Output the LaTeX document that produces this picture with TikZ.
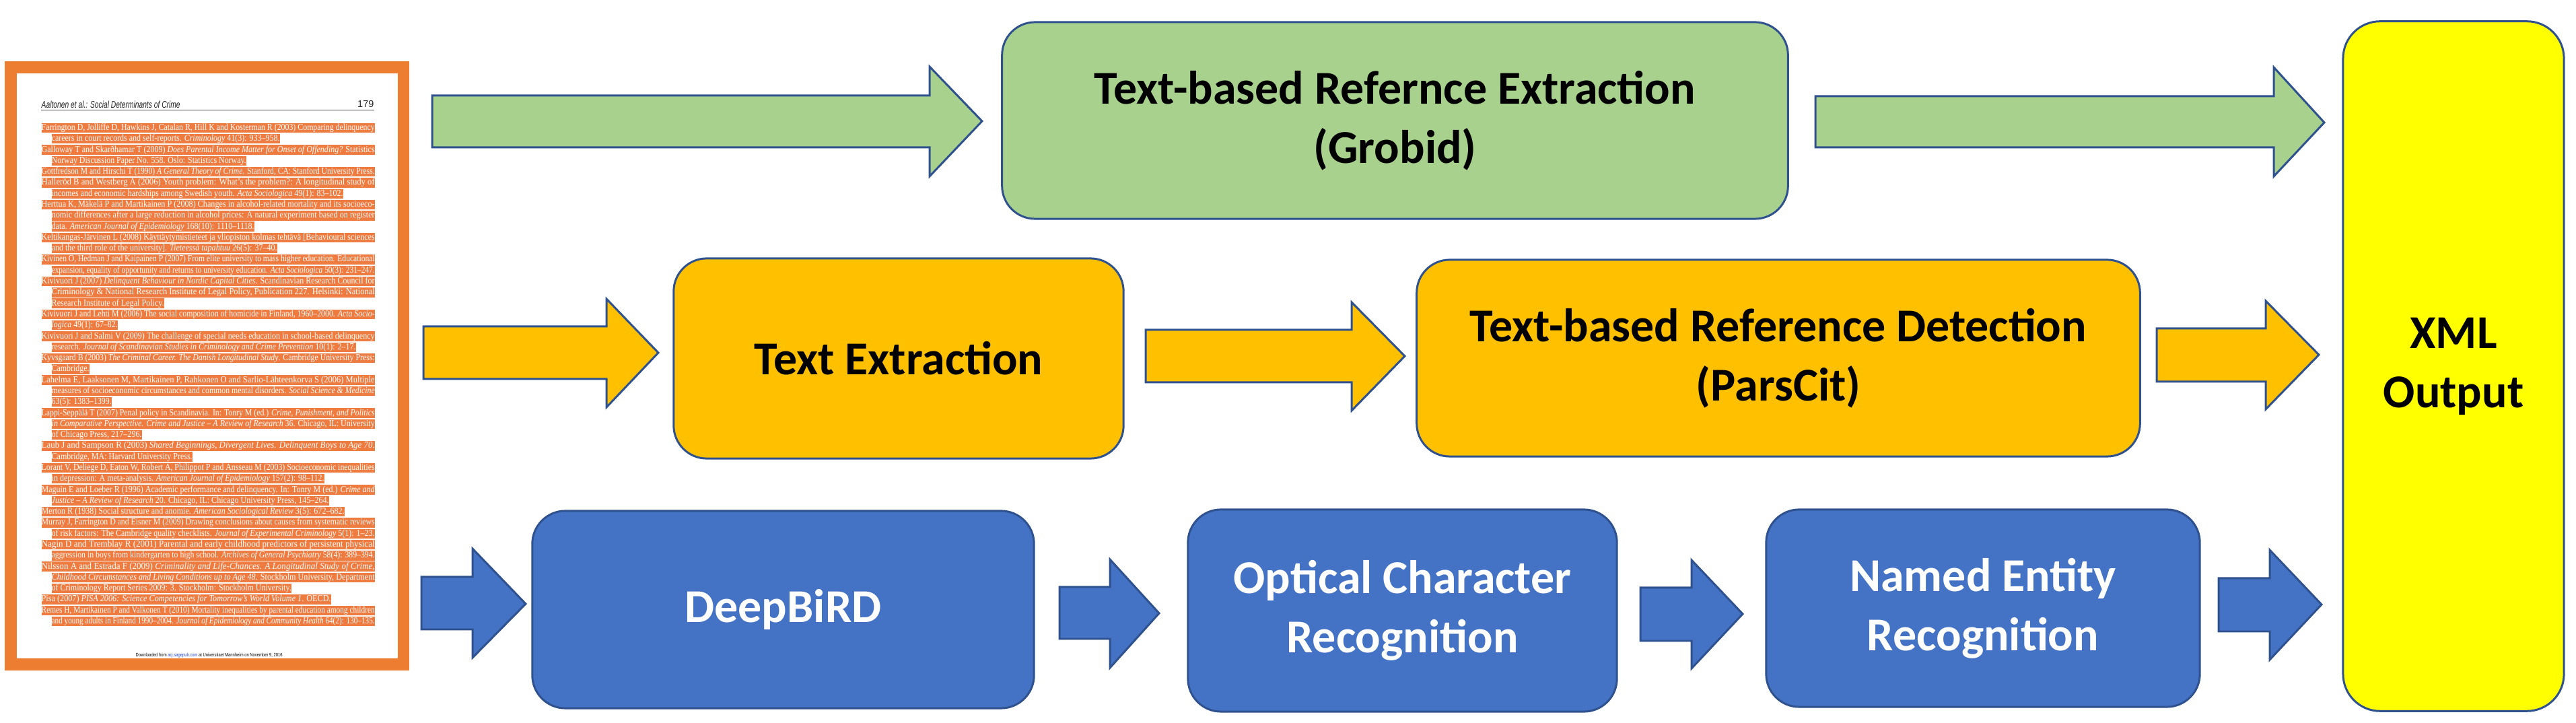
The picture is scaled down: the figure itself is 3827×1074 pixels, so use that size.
\documentclass[tikz,border=0pt]{standalone}
\usepackage{fontspec}
\usepackage{graphicx}
\newfontfamily\boxfont{Carlito}
\newfontfamily\reffont{Liberation Serif}
\newfontfamily\hdrfont{Liberation Sans}
\definecolor{docor}{HTML}{ED7D31}
\definecolor{hlor}{HTML}{EE7B40}
\definecolor{grfill}{HTML}{A9D18E}
\definecolor{gdfill}{HTML}{FFC000}
\definecolor{blfill}{HTML}{4472C4}
\definecolor{outl}{HTML}{2F528F}
\definecolor{xmlfill}{HTML}{FFFF00}
\definecolor{linkblue}{HTML}{1F3FD0}
\newlength\pxl
\setlength\pxl{0.01cm}
\newcommand\rl[5]{%
  \node[refl, anchor=west] (#1) at (#2, {190+(#3-1)*16.29}) {\resizebox{#4\pxl}{\height}{#5}};%
}
\tikzset{
  refl/.style={fill=hlor, inner sep=0pt, text=white, text height=3.05pt, text depth=1.05pt,
    font=\reffont\fontsize{3.9pt}{4.2pt}\selectfont},
  procbox/.style={draw=outl, line width=0.85pt, rounded corners=0.49cm, inner sep=0pt,
    align=center, font=\boxfont\bfseries\fontsize{19.9pt}{25pt}\selectfont},
  blockarr/.style={draw=outl, line width=0.85pt, line join=miter}
}
\begin{document}
\begin{tikzpicture}[x=0.01cm, y=-0.01cm]
\fill[white] (0,0) rectangle (3827,1074);
\useasboundingbox (0,0) rectangle (3827,1074);

% ---------- document page ----------
\fill[docor] (7,91) rectangle (608,996);
\fill[white] (25,109) rectangle (591,978);
\node[anchor=west, inner sep=0pt, font=\hdrfont\itshape\fontsize{4.1pt}{4.5pt}\selectfont, text=black!85] (hdr) at (61,155)
  {\resizebox{206\pxl}{\height}{Aaltonen et al.: Social Determinants of Crime}};
\node[anchor=east, inner sep=0pt, font=\hdrfont\fontsize{4.1pt}{4.5pt}\selectfont, text=black!85] (pg) at (556,155) {179};
\draw[black!70, line width=0.25pt] (61,163) -- (556,163);

\rl{l1}{61}{1}{495}{Farrington D, Jolliffe D, Hawkins J, Catalan R, Hill K and Kosterman R (2003) Comparing delinquency}
\rl{l2}{76}{2}{339}{careers in court records and self-reports. \textit{Criminology} 41(3): 933–958.}
\rl{l3}{61}{3}{495}{Galloway T and Skarðhamar T (2009) \textit{Does Parental Income Matter for Onset of Offending?} Statistics}
\rl{l4}{76}{4}{289}{Norway Discussion Paper No. 558. Oslo: Statistics Norway.}
\rl{l5}{61}{5}{495}{Gottfredson M and Hirschi T (1990) \textit{A General Theory of Crime}. Stanford, CA: Stanford University Press.}
\rl{l6}{61}{6}{495}{Halleröd B and Westberg A (2006) Youth problem: What’s the problem?: A longitudinal study of}
\rl{l7}{76}{7}{433}{incomes and economic hardships among Swedish youth. \textit{Acta Sociologica} 49(1): 83–102.}
\rl{l8}{61}{8}{495}{Herttua K, Mäkelä P and Martikainen P (2008) Changes in alcohol-related mortality and its socioeco-}
\rl{l9}{76}{9}{480}{nomic differences after a large reduction in alcohol prices: A natural experiment based on register}
\rl{l10}{76}{10}{301}{data. \textit{American Journal of Epidemiology} 168(10): 1110–1118.}
\rl{l11}{61}{11}{495}{Keltikangas-Järvinen L (2008) Käyttäytymistieteet ja yliopiston kolmas tehtävä [Behavioural sciences}
\rl{l12}{76}{12}{335}{and the third role of the university]. \textit{Tieteessä tapahtuu} 26(5): 37–40.}
\rl{l13}{61}{13}{495}{Kivinen O, Hedman J and Kaipainen P (2007) From elite university to mass higher education. Educational}
\rl{l14}{76}{14}{480}{expansion, equality of opportunity and returns to university education. \textit{Acta Sociologica} 50(3): 231–247.}
\rl{l15}{61}{15}{495}{Kivivuori J (2007) \textit{Delinquent Behaviour in Nordic Capital Cities}. Scandinavian Research Council for}
\rl{l16}{76}{16}{480}{Criminology \& National Research Institute of Legal Policy, Publication 227. Helsinki: National}
\rl{l17}{76}{17}{167}{Research Institute of Legal Policy.}
\rl{l18}{61}{18}{495}{Kivivuori J and Lehti M (2006) The social composition of homicide in Finland, 1960–2000. \textit{Acta Socio-}}
\rl{l19}{76}{19}{98}{\textit{logica} 49(1): 67–82.}
\rl{l20}{61}{20}{495}{Kivivuori J and Salmi V (2009) The challenge of special needs education in school-based delinquency}
\rl{l21}{76}{21}{452}{research. \textit{Journal of Scandinavian Studies in Criminology and Crime Prevention} 10(1): 2–17.}
\rl{l22}{61}{22}{495}{Kyvsgaard B (2003) \textit{The Criminal Career. The Danish Longitudinal Study}. Cambridge University Press:}
\rl{l23}{76}{23}{56}{Cambridge.}
\rl{l24}{61}{24}{495}{Lahelma E, Laaksonen M, Martikainen P, Rahkonen O and Sarlio-Lähteenkorva S (2006) Multiple}
\rl{l25}{76}{25}{480}{measures of socioeconomic circumstances and common mental disorders. \textit{Social Science \& Medicine}}
\rl{l26}{76}{26}{89}{63(5): 1383–1399.}
\rl{l27}{61}{27}{495}{Lappi-Seppälä T (2007) Penal policy in Scandinavia. In: Tonry M (ed.) \textit{Crime, Punishment, and Politics}}
\rl{l28}{76}{28}{480}{\textit{in Comparative Perspective. Crime and Justice – A Review of Research} 36. Chicago, IL: University}
\rl{l29}{76}{29}{134}{of Chicago Press, 217–296.}
\rl{l30}{61}{30}{495}{Laub J and Sampson R (2003) \textit{Shared Beginnings, Divergent Lives. Delinquent Boys to Age 70}.}
\rl{l31}{76}{31}{209}{Cambridge, MA: Harvard University Press.}
\rl{l32}{61}{32}{495}{Lorant V, Deliege D, Eaton W, Robert A, Philippot P and Ansseau M (2003) Socioeconomic inequalities}
\rl{l33}{76}{33}{405}{in depression: A meta-analysis. \textit{American Journal of Epidemiology} 157(2): 98–112.}
\rl{l34}{61}{34}{495}{Maguin E and Loeber R (1996) Academic performance and delinquency. In: Tonry M (ed.) \textit{Crime and}}
\rl{l35}{76}{35}{412}{\textit{Justice – A Review of Research} 20. Chicago, IL: Chicago University Press, 145–264.}
\rl{l36}{61}{36}{450}{Merton R (1938) Social structure and anomie. \textit{American Sociological Review} 3(5): 672–682.}
\rl{l37}{61}{37}{495}{Murray J, Farrington D and Eisner M (2009) Drawing conclusions about causes from systematic reviews}
\rl{l38}{76}{38}{480}{of risk factors: The Cambridge quality checklists. \textit{Journal of Experimental Criminology} 5(1): 1–23.}
\rl{l39}{61}{39}{495}{Nagin D and Tremblay R (2001) Parental and early childhood predictors of persistent physical}
\rl{l40}{76}{40}{480}{aggression in boys from kindergarten to high school. \textit{Archives of General Psychiatry} 58(4): 389–394.}
\rl{l41}{61}{41}{495}{Nilsson A and Estrada F (2009) \textit{Criminality and Life-Chances. A Longitudinal Study of Crime,}}
\rl{l42}{76}{42}{480}{\textit{Childhood Circumstances and Living Conditions up to Age 48}. Stockholm University, Department}
\rl{l43}{76}{43}{356}{of Criminology Report Series 2009: 3. Stockholm: Stockholm University.}
\rl{l44}{61}{44}{430}{Pisa (2007) \textit{PISA 2006: Science Competencies for Tomorrow’s World Volume 1}. OECD.}
\rl{l45}{61}{45}{495}{Remes H, Martikainen P and Valkonen T (2010) Mortality inequalities by parental education among children}
\rl{l46}{76}{46}{480}{and young adults in Finland 1990–2004. \textit{Journal of Epidemiology and Community Health} 64(2): 130–135.}

\node[anchor=west, inner sep=0pt, font=\hdrfont\fontsize{2.1pt}{2.3pt}\selectfont] (foot) at (201,974)
  {\resizebox{218\pxl}{\height}{Downloaded from \textcolor{linkblue}{acj.sagepub.com} at Universitaet Mannheim on November 9, 2016}};

% ---------- process boxes ----------
\node[procbox, fill=grfill, minimum width=11.67cm, minimum height=2.92cm] (grobid) at (2072.5,179)
  {Text-based Refernce Extraction\\(Grobid)};
\node[procbox, fill=gdfill, minimum width=6.68cm, minimum height=2.97cm] (textex) at (1335,532.5)
  {Text Extraction};
\node[procbox, fill=gdfill, minimum width=10.74cm, minimum height=2.92cm] (parscit) at (2642,532)
  {Text-based Reference Detection\\(ParsCit)};
\node[procbox, fill=xmlfill, rounded corners=0.55cm, minimum width=3.28cm, minimum height=10.24cm] (xml) at (3645,544)
  {XML\\Output};
\node[procbox, fill=blfill, text=white, minimum width=7.45cm, minimum height=2.93cm] (deepbird) at (1163.5,905.5)
  {DeepBiRD};
\node[procbox, fill=blfill, text=white, minimum width=6.37cm, minimum height=3.00cm] (ocr) at (2083.5,907)
  {Optical Character\\Recognition};
\node[procbox, fill=blfill, text=white, minimum width=6.44cm, minimum height=2.93cm] (ner) at (2946,903.5)
  {Named Entity\\Recognition};

% ---------- block arrows ----------
\draw[blockarr, fill=grfill] (642,142) -- (1381,142) -- (1381,99) -- (1459,180) -- (1381,262) -- (1381,219) -- (642,219) -- cycle;
\draw[blockarr, fill=grfill] (2697,143) -- (3378,143) -- (3378,100) -- (3453,182) -- (3378,262) -- (3378,219) -- (2697,219) -- cycle;
\draw[blockarr, fill=gdfill] (629,485) -- (901,485) -- (901,444) -- (978,524) -- (901,605) -- (901,563) -- (629,563) -- cycle;
\draw[blockarr, fill=gdfill] (1702,490) -- (2008,490) -- (2008,449) -- (2087,529) -- (2008,610) -- (2008,568) -- (1702,568) -- cycle;
\draw[blockarr, fill=gdfill] (3204,488) -- (3366,488) -- (3366,447) -- (3445,527) -- (3366,608) -- (3366,567) -- (3204,567) -- cycle;
\draw[blockarr, fill=blfill] (626,857) -- (702,857) -- (702,815) -- (781,897) -- (702,977) -- (702,935) -- (626,935) -- cycle;
\draw[blockarr, fill=blfill] (1574,872) -- (1649,872) -- (1649,831) -- (1722,911) -- (1649,992) -- (1649,949) -- (1574,949) -- cycle;
\draw[blockarr, fill=blfill] (2437,873) -- (2513,873) -- (2513,832) -- (2589,912) -- (2513,993) -- (2513,952) -- (2437,952) -- cycle;
\draw[blockarr, fill=blfill] (3296,859) -- (3372,859) -- (3372,817) -- (3449,898) -- (3372,980) -- (3372,938) -- (3296,938) -- cycle;
\end{tikzpicture}
\end{document}
